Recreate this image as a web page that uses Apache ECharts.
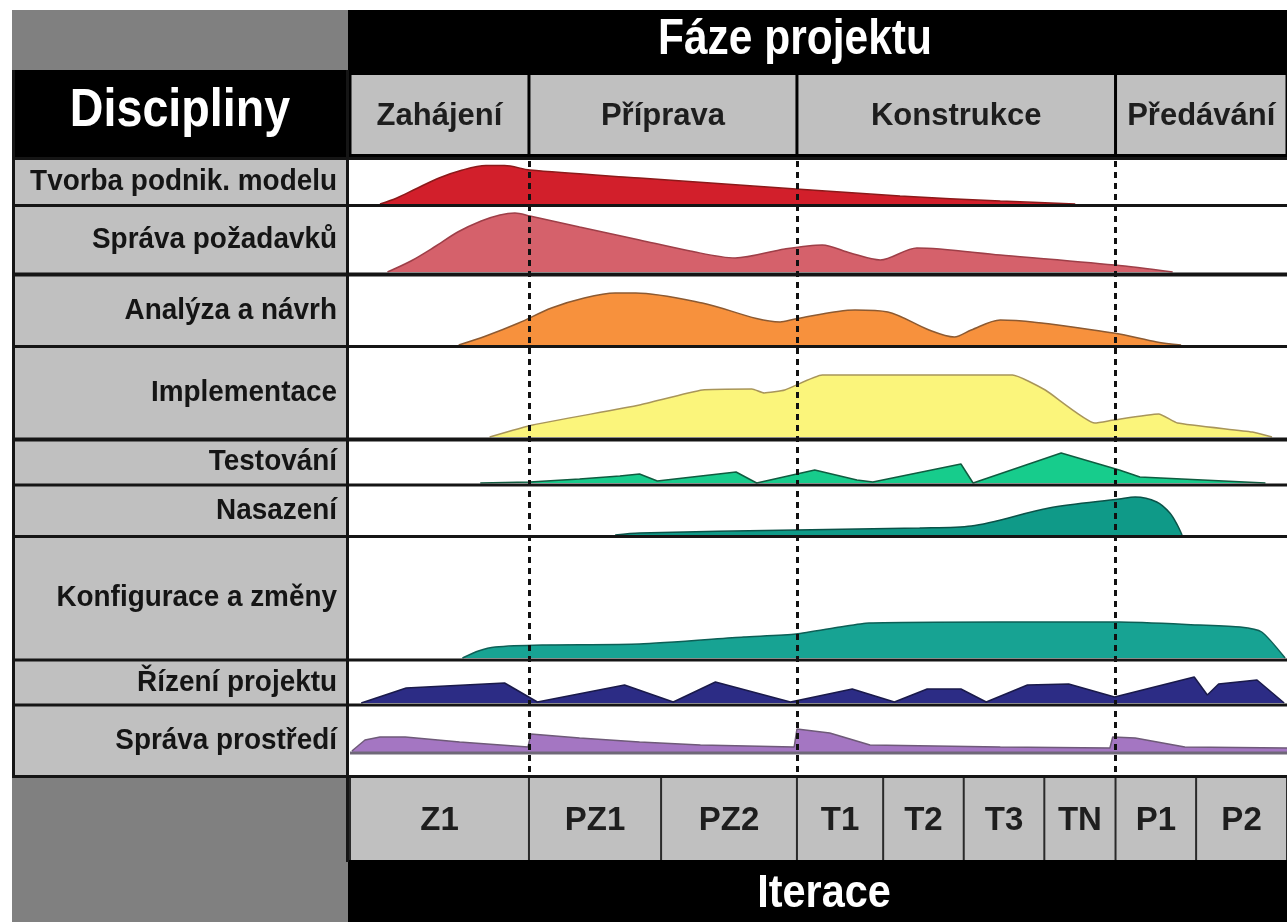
<!DOCTYPE html>
<html><head><meta charset="utf-8">
<script src="https://cdn.jsdelivr.net/npm/echarts@6/dist/echarts.min.js"></script>
<style>html,body{margin:0;padding:0;background:#fff}#c{width:1287px;height:922px}</style>
</head><body><div id="c"></div>
<script>
// ---------- DATA ----------
const disciplines = ['Tvorba podnik. modelu','Správa požadavků','Analýza a návrh','Implementace','Testování','Nasazení','Konfigurace a změny','Řízení projektu','Správa prostředí'];
const phases = ['Zahájení','Příprava','Konstrukce','Předávání'];
const phaseBounds = [0, 19.1, 47.7, 81.7, 100];
const iterations = ['Z1','PZ1','PZ2','T1','T2','T3','TN','P1','P2'];
const iterBounds = [0, 19.1, 33.2, 47.7, 56.9, 65.5, 74.1, 81.7, 90.3, 100];
// effort curves: [project time %, effort]
const tvorbaPodnModelu = [[3.2,0],[5,6],[7,15],[9.5,26],[12,34],[14.5,38.5],[16.5,38.5],[19.2,34],[30.9,26],[47.6,15],[58.7,8],[69.4,3],[77.4,0]];
const spravaPozadavku = [[4.0,0],[6.5,11],[9,25],[11.5,40],[14,51],[16,57],[17.6,59],[19.2,56],[24.5,45],[30.9,32],[36.3,21],[41.1,14],[46.4,23],[50.4,27],[53.4,19],[56.6,12],[60.5,24],[69.4,17],[81.6,7],[87.8,0]];
const analyzaNavrh = [[11.6,0],[14.5,9],[18,22],[21.5,37],[25,47],[28.3,52],[30.5,52],[37.6,42],[45.9,23],[47.5,26],[53.9,35],[57.4,33],[61.8,15],[64.5,8],[66.3,15],[69.4,25],[81.5,12],[86.1,3],[88.7,0]];
const implementace = [[14.9,0],[19.5,12],[30.9,32],[37.6,47],[42.9,48],[44.2,44],[46.4,47],[50.4,62],[70.7,62],[74.2,47],[79.5,14],[81.5,17],[86.3,23],[88.3,14],[96.3,5],[98.4,0]];
const testovani = [[13.9,0],[19.2,1],[24.5,4],[28.8,7],[30.9,9],[32.8,2],[41.2,11],[43.4,0],[49.6,13],[54.1,3],[55.8,1],[65.2,19],[66.5,0],[75.9,30],[82.1,13],[84.3,6],[97.7,0]];
const nasazeni = [[28.3,0],[30.9,2],[47.6,5],[60.8,7],[66.3,9],[74.6,27],[82.1,36],[83.8,38],[86.1,33],[87.5,22],[88.3,10],[88.8,0]];
const konfigurace = [[12.0,0],[13.7,7],[15.5,11],[20.5,13],[30.9,14],[42.0,21],[47.6,24],[52.3,31],[55.4,35],[69.4,36],[82.1,36],[90.7,33],[95.0,31],[97.3,26],[99.8,0]];
const rizeniProjektu = [[1.2,0],[6.0,15],[16.5,20],[20.0,1],[29.3,18],[34.5,1],[39.0,21],[47.0,1],[53.6,14],[58.1,1],[61.6,14],[65.2,14],[67.9,1],[72.3,18],[76.7,19],[81.6,6],[90.1,26],[91.5,8],[92.7,19],[96.8,23],[99.7,0]];
const spravaProstredi = [[0.2,1],[1.6,12],[3.2,15],[5.9,15],[11.7,10],[19.0,5],[19.3,18],[24.5,14],[30.9,10],[37.4,7],[47.4,5],[47.7,23],[51.2,19],[55.5,7],[69.4,5],[81.1,4],[81.4,15],[83.8,14],[89.1,5],[100,4]];
const curves = [tvorbaPodnModelu, spravaPozadavku, analyzaNavrh, implementace, testovani, nasazeni, konfigurace, rizeniProjektu, spravaProstredi];

// ---------- STYLE / LAYOUT ----------
const fills = ['#d21f2b','#d5616b','#f7913d','#fbf57b','#17cc8c','#0f9a88','#17a393','#2c2c85','#a476c2'];
const strokes = ['#8b1a1a','#9e3f48','#8c5a32','#a8955a','#105c40','#0b5248','#0d5f56','#1a1a4a','#6e5a78'];
const smooths = [0.3,0.3,0.3,0.15,0,0.3,0.2,0,0];
const rowTop = [160,207,277,348,442,487,538,662,707];
const rowH =   [44, 65, 68, 89, 41, 48, 120,41, 45];
const rowLabelY = [182,240,311,393,462,511,598,683,741];
const AREA_L = 350, AREA_W = 937;
const LABEL_FONT = 'bold 30px "Liberation Sans", Arial, sans-serif';

const grids = [], xAxes = [], yAxes = [], series = [];
function addGrid(top, height, ymax) {
  const i = grids.length;
  grids.push({left: AREA_L, top: top, width: AREA_W, height: height, containLabel: false});
  xAxes.push({type:'value', gridIndex:i, min:0, max:100, show:false});
  yAxes.push({type:'value', gridIndex:i, min:0, max:ymax, show:false});
  return i;
}
curves.forEach((d, k) => {
  const gi = addGrid(rowTop[k], rowH[k], rowH[k]);
  series.push({
    type:'line', name: disciplines[k], xAxisIndex:gi, yAxisIndex:gi, data:d,
    smooth: smooths[k], showSymbol:false, silent:true, z:3,
    lineStyle:{color:strokes[k], width:1.5},
    areaStyle:{color:fills[k], opacity:1}
  });
});
// dashed phase-boundary lines
const gDash = addGrid(160, 612, 1);
series.push({
  type:'line', xAxisIndex:gDash, yAxisIndex:gDash, data:[[0,0]], showSymbol:false, silent:true,
  lineStyle:{opacity:0}, z:20,
  markLine:{symbol:'none', silent:true, label:{show:false},
    lineStyle:{type:[6,5], width:3, color:'#111'},
    data: phaseBounds.slice(1, -1).map(v => ({xAxis:v}))}
});
function cellRenderer(labels, font, padT, padB, gap, dy) {
  return function(params, api) {
    const x0 = api.coord([api.value(0), 0])[0];
    const x1 = api.coord([api.value(1), 0])[0];
    const cs = params.coordSys;
    const i = api.value(2);
    return {type:'group', children:[
      {type:'rect', shape:{x:x0+gap, y:cs.y+padT, width:x1-x0-2*gap, height:cs.height-padT-padB}, style:{fill:'#c0c0c0'}},
      {type:'text', style:{text:labels[i], x:(x0+x1)/2, y:cs.y+padT+(cs.height-padT-padB)/2+dy, align:'center', verticalAlign:'middle', textAlign:'center', textVerticalAlign:'middle', font:font, fill:'#1e1e1e'}}
    ]};
  };
}
// phase header row
const gPhase = addGrid(70, 88, 1);
series.push({type:'custom', xAxisIndex:gPhase, yAxisIndex:gPhase, silent:true, z:5,
  renderItem: cellRenderer(phases, 'bold 31px "Liberation Sans", Arial, sans-serif', 5, 4, 1.5, 2),
  data: phases.map((p,i)=>[phaseBounds[i], phaseBounds[i+1], i])});
// iteration row
const gIter = addGrid(778, 82, 1);
series.push({type:'custom', xAxisIndex:gIter, yAxisIndex:gIter, silent:true, z:5,
  renderItem: cellRenderer(iterations, 'bold 33px "Liberation Sans", Arial, sans-serif', 0, 0, 1, 2),
  data: iterations.map((p,i)=>[iterBounds[i], iterBounds[i+1], i])});

// ---------- TABLE DECORATION ----------
const graphics = [
  {type:'rect', z:0, shape:{x:12,y:10,width:336,height:60}, style:{fill:'#808080'}},
  {type:'rect', z:0, shape:{x:348,y:10,width:939,height:60}, style:{fill:'#000'}},
  {type:'rect', z:0, shape:{x:12,y:70,width:336,height:88}, style:{fill:'#000'}},
  {type:'rect', z:0, shape:{x:348,y:70,width:939,height:90}, style:{fill:'#000'}},
  {type:'rect', z:0, shape:{x:12,y:158,width:336,height:620}, style:{fill:'#c0c0c0'}},
  {type:'rect', z:0, shape:{x:12,y:778,width:336,height:144}, style:{fill:'#808080'}},
  {type:'rect', z:0, shape:{x:348,y:776,width:939,height:86}, style:{fill:'#2a2a2a'}},
  {type:'rect', z:0, shape:{x:348,y:860,width:939,height:62}, style:{fill:'#000'}},
  {type:'text', z:50, x:795, y:40, scaleX:0.85, style:{text:'Fáze projektu', x:0, y:0, align:'center', verticalAlign:'middle', textAlign:'center', textVerticalAlign:'middle', font:'bold 50px "Liberation Sans", Arial, sans-serif', fill:'#fff'}},
  {type:'text', z:50, x:180, y:111, scaleX:0.88, style:{text:'Discipliny', x:0, y:0, align:'center', verticalAlign:'middle', textAlign:'center', textVerticalAlign:'middle', font:'bold 53px "Liberation Sans", Arial, sans-serif', fill:'#fff'}},
  {type:'text', z:50, x:824, y:894, scaleX:0.9, style:{text:'Iterace', x:0, y:0, align:'center', verticalAlign:'middle', textAlign:'center', textVerticalAlign:'middle', font:'bold 46px "Liberation Sans", Arial, sans-serif', fill:'#fff'}}
];
disciplines.forEach((name, k) => {
  graphics.push({type:'text', z:50, x:337, y:rowLabelY[k], scaleX:0.93, style:{text:name, x:0, y:0, align:'right', verticalAlign:'middle', textAlign:'right', textVerticalAlign:'middle', font:LABEL_FONT, fill:'#151515'}});
});
const hLines = [[158.5,3],[205.5,3],[274.5,4],[346.5,3],[439.5,4],[485,3],[536.5,3],[660,3],[705,3],[776.5,3]];
hLines.forEach(([y,w]) => graphics.push({type:'line', z:40, shape:{x1:12,y1:y,x2:1287,y2:y}, style:{stroke:'#151515', lineWidth:w}}));
graphics.push({type:'line', z:40, shape:{x1:13.5,y1:70,x2:13.5,y2:778}, style:{stroke:'#151515', lineWidth:3}});
graphics.push({type:'line', z:40, shape:{x1:347.5,y1:70,x2:347.5,y2:862}, style:{stroke:'#151515', lineWidth:3}});
graphics.push({type:'line', z:40, shape:{x1:350,y1:753,x2:1287,y2:753}, style:{stroke:'#6f6878', lineWidth:3}});

const chart = echarts.init(document.getElementById('c'), null, {renderer:'canvas'});
chart.setOption({
  animation:false, backgroundColor:'#ffffff',
  grid: grids, xAxis: xAxes, yAxis: yAxes, series: series, graphic: graphics
});
</script></body></html>
